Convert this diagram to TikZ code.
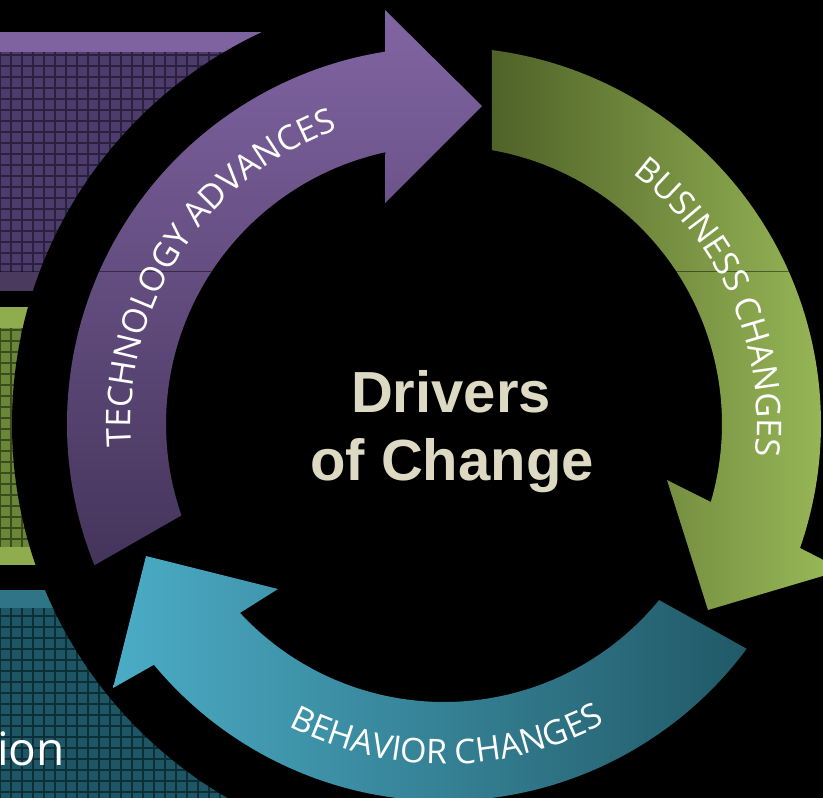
\documentclass[tikz,border=0pt]{standalone}
\usepackage{fontspec}
\usetikzlibrary{decorations.text}
\newfontfamily\arcfont{Open Sans}
\newfontfamily\headfont{Liberation Sans}
\newcommand\arcstyle{\arcfont\fontsize{34}{40}\selectfont}

% panel colours
\definecolor{purpleBand}{HTML}{7F63A1}
\definecolor{purpleTex}{HTML}{4C3B6B}
\definecolor{purpleGrid}{HTML}{2A2040}
\definecolor{purpleLow}{HTML}{4A3A5E}
\definecolor{greenBand}{HTML}{8FAD4E}
\definecolor{greenTex}{HTML}{6A8638}
\definecolor{greenGrid}{HTML}{3A4B1C}
\definecolor{tealBand}{HTML}{2F7487}
\definecolor{tealTex}{HTML}{1E5666}
\definecolor{tealGrid}{HTML}{0C2E37}
% arrow colours
\definecolor{purpleA}{HTML}{8165A3}
\definecolor{purpleB}{HTML}{44345A}
\definecolor{greenA}{HTML}{4F6228}
\definecolor{greenB}{HTML}{9BBB59}
\definecolor{tealA}{HTML}{4BACC6}
\definecolor{tealB}{HTML}{215967}
\definecolor{beige}{HTML}{DDD9C3}

\tikzset{
  texgrid/.style={line width=1.2, step=11},
  arclabel/.style={decorate, decoration={text along path, text align=center,
      text color=white, text={|\arcstyle|#1}}},
  headline/.style={font=\headfont\bfseries\fontsize{58}{68}\selectfont,
      text=beige, anchor=base, inner sep=0pt}
}

\begin{document}
\begin{tikzpicture}[x=1pt,y=1pt]
\useasboundingbox (0,0) rectangle (823,-798);
\clip (0,0) rectangle (823,-798);
\fill[black] (0,0) rectangle (823,-798);
\coordinate (O) at (444,-424);

% purple panel
\fill[purpleBand] (0,-32) rectangle (330,-52);
\fill[purpleTex] (0,-52) rectangle (330,-272);
\begin{scope}
  \clip (0,-52) rectangle (330,-272);
  \draw[texgrid, purpleGrid] (0,-275) grid (330,-44);
\end{scope}
\fill[purpleLow] (0,-272) rectangle (330,-290.5);

% green panel
\fill[greenBand] (0,-307) rectangle (330,-328);
\fill[greenTex] (0,-328) rectangle (330,-547);
\begin{scope}
  \clip (0,-328) rectangle (330,-547);
  \draw[texgrid, greenGrid] (0,-550) grid (330,-319);
\end{scope}
\fill[greenBand] (0,-547) rectangle (330,-565);

% teal panel
\fill[tealBand] (0,-590) rectangle (330,-608);
\fill[tealTex] (0,-608) rectangle (330,-798);
\begin{scope}
  \clip (0,-608) rectangle (330,-798);
  \draw[texgrid, tealGrid] (0,-803) grid (330,-605);
\end{scope}
\node[anchor=base west, inner sep=0pt, text=white,
      font=\arcfont\fontsize{46}{50}\selectfont] (ion) at (-3,-765) {ion};

% black disc behind the cycle
\fill[black] (O) circle[radius=432];

% technology arrow
\fill[top color=purpleA, bottom color=purpleB]
  ([shift={(O)}]202:377) arc[start angle=202, end angle=99, radius=377]
  -- (385,-10) -- (482,-106) -- (385,-203)
  -- ([shift={(O)}]102.2:278) arc[start angle=102.2, end angle=199.2, radius=278]
  -- cycle;

% business arrow
\fill[left color=greenA, right color=greenB]
  ([shift={(O)}]82.69:377) arc[start angle=82.69, end angle=-19.2, radius=377]
  -- (843,-570) -- (708,-610) -- (667,-480)
  -- ([shift={(O)}]-16.3:278) arc[start angle=-16.3, end angle=80.06, radius=278]
  -- cycle;

% behavior arrow
\fill[left color=tealA, right color=tealB]
  ([shift={(O)}]-36.6:377) arc[start angle=-36.6, end angle=-140.3, radius=377]
  -- (113,-688) -- (146,-556) -- (278,-589)
  -- ([shift={(O)}]-137.2:278) arc[start angle=-137.2, end angle=-39.3, radius=278]
  -- cycle;

% thin guide line across the slide
\draw[black, opacity=0.45, line width=1] (0,-271.5) -- (823,-271.5);

% arc labels
\path[arclabel={TECHNOLOGY ADVANCES}]
  ([shift={(O)}]212:313) arc[start angle=212, end angle=82, radius=313];
\path[arclabel={BUSINESS CHANGES}]
  ([shift={(O)}]83.65:313) arc[start angle=83.65, end angle=-36.35, radius=313];
\path[arclabel={BEHAVIOR CHANGES}]
  ([shift={(O)}]210.5:340) arc[start angle=210.5, end angle=330.5, radius=340];

% centre title
\node[headline] (drivers) at (451,-412) {Drivers};
\node[headline] (change) at (452,-480) {of Change};
\end{tikzpicture}
\end{document}
